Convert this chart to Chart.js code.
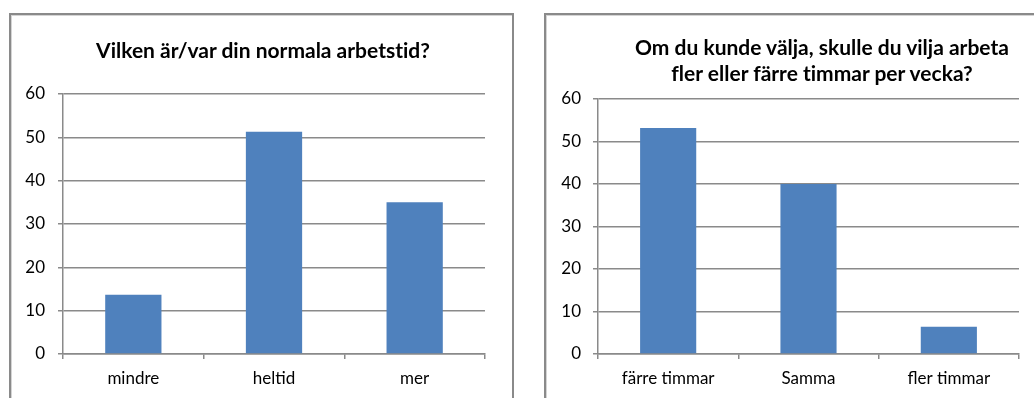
<!DOCTYPE html>
<html lang="sv">
<head>
<meta charset="utf-8">
<title>Arbetstid</title>
<script src="https://cdn.jsdelivr.net/npm/chart.js@4.4.1/dist/chart.umd.min.js"></script>
<style>
  html, body { margin: 0; padding: 0; background: #fff; overflow: hidden; }
  body { width: 1034px; height: 398px; position: relative; }
  .frame {
    position: absolute; top: 13px; width: 501px; height: 420px;
    border: 2px solid #8a8a8a; box-shadow: inset 1px 1px 0 #d4d4d4;
    background: #fff;
  }
  .plot { position: absolute; left: 0; top: 0; width: 501px; height: 383px; }
  .title {
    position: absolute; text-align: center; color: #000;
    font-family: Lato, "Open Sans", sans-serif; font-weight: bold;
    font-size: 21px; line-height: 26px; white-space: nowrap;
    font-variant-ligatures: none; font-feature-settings: "liga" 0, "clig" 0;
  }
</style>
</head>
<body>
<div class="frame" style="left:9px;">
  <div class="plot"><canvas id="tid"></canvas></div>
</div>
<div class="frame" style="left:544px;">
  <div class="plot"><canvas id="timmar"></canvas></div>
</div>
<div class="title" style="left:13px; width:500px; top:37px;">Vilken är/var din normala arbetstid?</div>
<div class="title" style="left:602px; width:440px; top:34px;">Om du kunde välja, skulle du vilja arbeta<br>fler eller färre timmar per vecka?</div>

<script>
// Svarsfördelning i procent
const tidKategorier = ['mindre', 'heltid', 'mer'];
const tidVarden = [13.7, 51.3, 35.0];

const timmarKategorier = ['färre timmar', 'Samma', 'fler timmar'];
const timmarVarden = [53.2, 40.0, 6.4];

const yTicks = [0, 10, 20, 30, 40, 50, 60];

const barColor = '#4F81BD';
const lineColor = '#8a8a8a';
const tickFont = { family: 'Lato, "Open Sans", sans-serif', size: 17 };

function makeChart(id, labels, values, padTop, padRight, yLabelPad) {
  return new Chart(document.getElementById(id), {
    type: 'bar',
    data: {
      labels: labels,
      datasets: [{
        data: values,
        backgroundColor: barColor,
        borderWidth: 0,
        barPercentage: 0.4,
        categoryPercentage: 1.0
      }]
    },
    options: {
      responsive: true,
      maintainAspectRatio: false,
      animation: false,
      layout: { padding: { top: padTop, right: padRight, left: 0, bottom: 0 } },
      plugins: { legend: { display: false }, tooltip: { enabled: false }, title: { display: false } },
      scales: {
        x: {
          grid: { display: true, drawOnChartArea: false, drawTicks: true, tickLength: 5, color: lineColor, lineWidth: 1.5, offset: true },
          border: { display: true, color: lineColor, width: 1.5 },
          ticks: { color: '#000', font: tickFont, padding: 9, maxRotation: 0, autoSkip: false },
          afterFit: (s) => { s.height = 44; }
        },
        y: {
          min: yTicks[0],
          max: yTicks[yTicks.length - 1],
          afterBuildTicks: (s) => { s.ticks = yTicks.map(v => ({ value: v })); },
          grid: { color: lineColor, lineWidth: 1.5, drawTicks: true, tickLength: 5 },
          border: { display: true, color: lineColor, width: 1.5 },
          ticks: { color: '#000', font: tickFont, padding: yLabelPad },
          afterFit: (s) => { s.width = 52; }
        }
      }
    }
  });
}

makeChart('tid', tidKategorier, tidVarden, 79, 27, 13);
makeChart('timmar', timmarKategorier, timmarVarden, 84, 28, 12);
</script>
</body>
</html>
